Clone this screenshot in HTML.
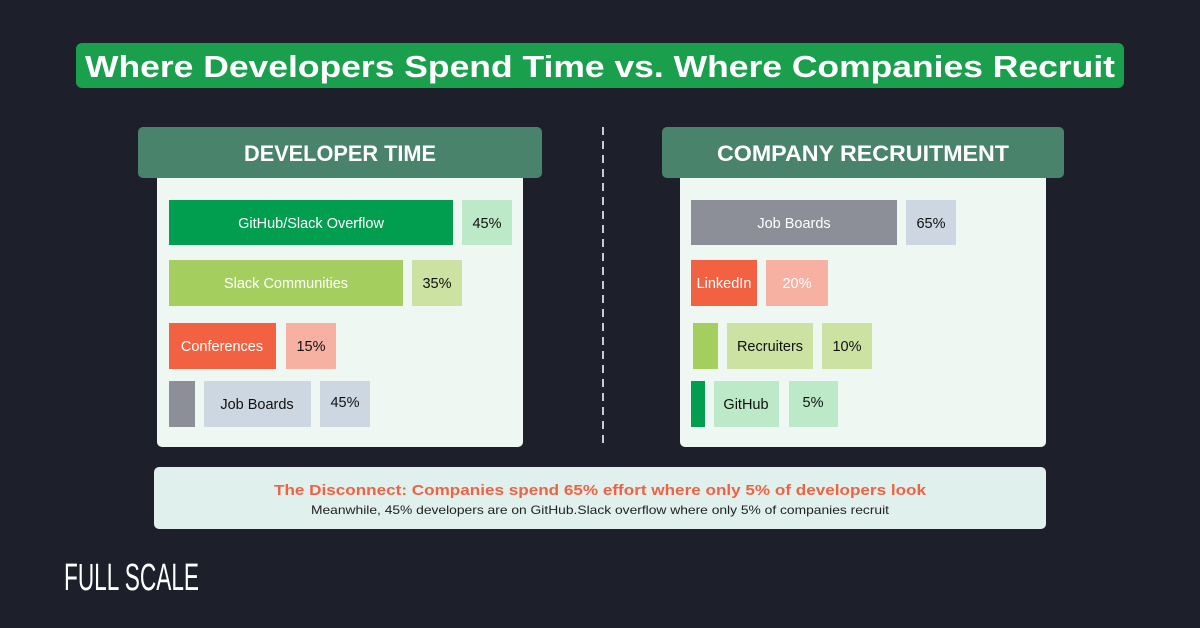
<!DOCTYPE html>
<html><head><meta charset="utf-8"><style>
html,body{margin:0;padding:0;background:#1d202b;}
svg{display:block}
text{font-family:"Liberation Sans",sans-serif;}
</style></head><body>
<svg width="1200" height="628" viewBox="0 0 1200 628" xmlns="http://www.w3.org/2000/svg">
<rect width="1200" height="628" fill="#1d202b"/>
<rect x="76" y="43" width="1048" height="45" rx="6" fill="#1aa04d"/>
<text x="600" y="77" text-anchor="middle" font-size="31" font-weight="bold" fill="#fff" textLength="1030" lengthAdjust="spacingAndGlyphs">Where Developers Spend Time vs. Where Companies Recruit</text>

<line x1="603" y1="127" x2="603" y2="447" stroke="#c8ccd2" stroke-width="2" stroke-dasharray="8,6"/>

<!-- Left panel -->
<rect x="157" y="170" width="366" height="277" rx="5" fill="#eff7f3"/>
<rect x="138" y="127" width="404" height="51" rx="5" fill="#4a836b"/>
<text x="340" y="161" text-anchor="middle" font-size="22" font-weight="bold" fill="#fff" textLength="192" lengthAdjust="spacingAndGlyphs">DEVELOPER TIME</text>

<rect x="169" y="200" width="284" height="45" fill="#009e4e"/>
<text x="311" y="228" text-anchor="middle" font-size="14.5" fill="#fff">GitHub/Slack Overflow</text>
<rect x="462" y="200" width="50" height="45" fill="#bce9c7"/>
<text x="487" y="228" text-anchor="middle" font-size="14.5" fill="#111">45%</text>

<rect x="169" y="260" width="234" height="46" fill="#a4cf5f"/>
<text x="286" y="288" text-anchor="middle" font-size="14.5" fill="#fff">Slack Communities</text>
<rect x="412" y="260" width="50" height="46" fill="#cbe2a3"/>
<text x="437" y="288" text-anchor="middle" font-size="14.5" fill="#111">35%</text>

<rect x="169" y="323" width="107" height="46" fill="#f26141"/>
<text x="222" y="351" text-anchor="middle" font-size="14.5" fill="#fff">Conferences</text>
<rect x="286" y="323" width="50" height="46" fill="#f7b1a2"/>
<text x="311" y="351" text-anchor="middle" font-size="14.5" fill="#111">15%</text>

<rect x="169" y="381" width="26" height="46" fill="#8c8f97"/>
<rect x="204" y="381" width="107" height="46" fill="#cdd7e1"/>
<text x="257" y="409" text-anchor="middle" font-size="14.5" fill="#111">Job Boards</text>
<rect x="320" y="381" width="50" height="46" fill="#cdd7e1"/>
<text x="345" y="407" text-anchor="middle" font-size="14.5" fill="#111">45%</text>

<!-- Right panel -->
<rect x="680" y="170" width="366" height="277" rx="5" fill="#eff7f3"/>
<rect x="662" y="127" width="402" height="51" rx="5" fill="#4a836b"/>
<text x="863" y="161" text-anchor="middle" font-size="22" font-weight="bold" fill="#fff" textLength="292" lengthAdjust="spacingAndGlyphs">COMPANY RECRUITMENT</text>

<rect x="691" y="200" width="206" height="45" fill="#8c8f97"/>
<text x="794" y="228" text-anchor="middle" font-size="14.5" fill="#fff">Job Boards</text>
<rect x="906" y="200" width="50" height="45" fill="#cdd7e1"/>
<text x="931" y="228" text-anchor="middle" font-size="14.5" fill="#111">65%</text>

<rect x="691" y="260" width="66" height="46" fill="#f26141"/>
<text x="724" y="288" text-anchor="middle" font-size="14.5" fill="#fff">LinkedIn</text>
<rect x="766" y="260" width="62" height="46" fill="#f7b1a2"/>
<text x="797" y="288" text-anchor="middle" font-size="14.5" fill="#fff">20%</text>

<rect x="693" y="323" width="25" height="46" fill="#a4cf5f"/>
<rect x="727" y="323" width="86" height="46" fill="#cbe2a3"/>
<text x="770" y="351" text-anchor="middle" font-size="14.5" fill="#111">Recruiters</text>
<rect x="822" y="323" width="50" height="46" fill="#cbe2a3"/>
<text x="847" y="351" text-anchor="middle" font-size="14.5" fill="#111">10%</text>

<rect x="691" y="381" width="14" height="46" fill="#009e4e"/>
<rect x="714" y="381" width="65" height="46" fill="#bce9c7"/>
<text x="746" y="409" text-anchor="middle" font-size="14.5" fill="#111">GitHub</text>
<rect x="789" y="381" width="49" height="46" fill="#bce9c7"/>
<text x="813" y="407" text-anchor="middle" font-size="14.5" fill="#111">5%</text>

<!-- Bottom box -->
<rect x="154" y="467" width="892" height="62" rx="5" fill="#e0f0ec"/>
<text x="600" y="495" text-anchor="middle" font-size="15" font-weight="bold" fill="#f26141" textLength="652" lengthAdjust="spacingAndGlyphs">The Disconnect: Companies spend 65% effort where only 5% of developers look</text>
<text x="600" y="514" text-anchor="middle" font-size="12" fill="#222" textLength="578" lengthAdjust="spacingAndGlyphs">Meanwhile, 45% developers are on GitHub.Slack overflow where only 5% of companies recruit</text>

<!-- Logo -->
<text x="64" y="590" font-size="38" fill="#fff" textLength="135" lengthAdjust="spacingAndGlyphs" font-family="Liberation Sans Narrow, Liberation Sans, sans-serif">FULL SCALE</text>
</svg>
</body></html>
